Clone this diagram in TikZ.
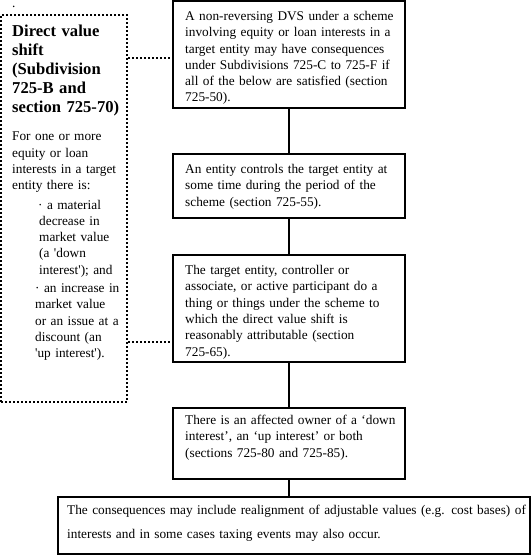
\documentclass[tikz,border=0pt]{standalone}
\usepackage{fontspec}
\setmainfont{Liberation Serif}
\newcommand{\bodyfnt}{\fontsize{13.3}{16.3}\selectfont}
\newcommand{\titlefnt}{\fontsize{16.6}{18.8}\selectfont\bfseries}
\begin{document}
\begin{tikzpicture}[x=1pt,y=-1pt,
  flowbox/.style={draw, line width=2pt, inner sep=0pt},
  sidebox/.style={draw, line width=2pt, dash pattern=on 2pt off 2pt, inner sep=0pt},
  body/.style={anchor=base west, inner sep=0pt, align=left, text width=460pt, font=\bodyfnt},
  ttl/.style={anchor=base west, inner sep=0pt, align=left, text width=120pt, font=\titlefnt},
  conn/.style={line width=2pt},
  dotconn/.style={line width=1.5pt, dash pattern=on 1.5pt off 2.5pt}
]
\useasboundingbox (0,0) rectangle (531,556);

% side box
\node[sidebox, minimum width=126pt, minimum height=387pt] (L) at (64,208.5) {};
\node[anchor=base west, inner sep=0pt, text height=2pt, text depth=0pt, font=\bodyfnt] (dot) at (12,8) {.};
\node[ttl] (title) at (12,37) {Direct value\\shift\\(Subdivision\\725-B and\\section 725-70)};
\node[body, text width=110pt] (intro) at (12,141) {For one or more\\equity or loan\\interests in a target\\entity there is:};
\node[body, text width=88pt] (bul1) at (38,209) {· a material\\\hspace*{1pt}decrease in\\\hspace*{1pt}market value\\\hspace*{1pt}(a \textquotesingle down\\\hspace*{1pt}interest\textquotesingle); and};
\node[body, text width=90pt] (bul2) at (35,292.5) {· an increase in\\market value\\or an issue at a\\discount (an\\\textquotesingle up interest\textquotesingle).};

% flow boxes
\node[flowbox, minimum width=232pt, minimum height=107pt] (b1) at (289,54.5) {};
\node[flowbox, minimum width=232pt, minimum height=64pt] (b2) at (289,186) {};
\node[flowbox, minimum width=232pt, minimum height=107pt] (b3) at (289,308.5) {};
\node[flowbox, minimum width=232pt, minimum height=71pt] (b4) at (289,443.5) {};
\node[flowbox, minimum width=472pt, minimum height=57pt] (b5) at (294,525.5) {};

\node[body, text width=218pt] (t1) at (185,20.5) {A non-reversing DVS under a scheme\\involving equity or loan interests in a\\target entity may have consequences\\under Subdivisions 725-C to 725-F if\\all of the below are satisfied (section\\725-50).};
\node[body, text width=218pt] (t2) at (185,173.5) {An entity controls the target entity at\\some time during the period of the\\scheme (section 725-55).};
\node[body, text width=218pt] (t3) at (185,274.5) {The target entity, controller or\\associate, or active participant do a\\thing or things under the scheme to\\which the direct value shift is\\reasonably attributable (section\\725-65).};
\node[body, text width=218pt] (t4) at (185,424.5) {There is an affected owner of a ‘down\\interest’, an ‘up interest’ or both\\(sections 725-80 and 725-85).};
\node[body, text width=460pt, font=\fontsize{13.3}{23.5}\selectfont] (t5) at (67,514.5) {The consequences may include realignment of adjustable values (e.g. cost bases) of\\interests and in some cases taxing events may also occur.};

% connectors
\draw[conn] (b1.south) -- (b2.north);
\draw[conn] (b2.south) -- (b3.north);
\draw[conn] (b3.south) -- (b4.north);
\draw[conn] (b4.south) -- (b4.south |- b5.north);
\draw[dotconn] (L.east |- 0,58) -- (b1.west |- 0,58);
\draw[dotconn] (L.east |- 0,342) -- (b3.west |- 0,342);
\end{tikzpicture}
\end{document}
